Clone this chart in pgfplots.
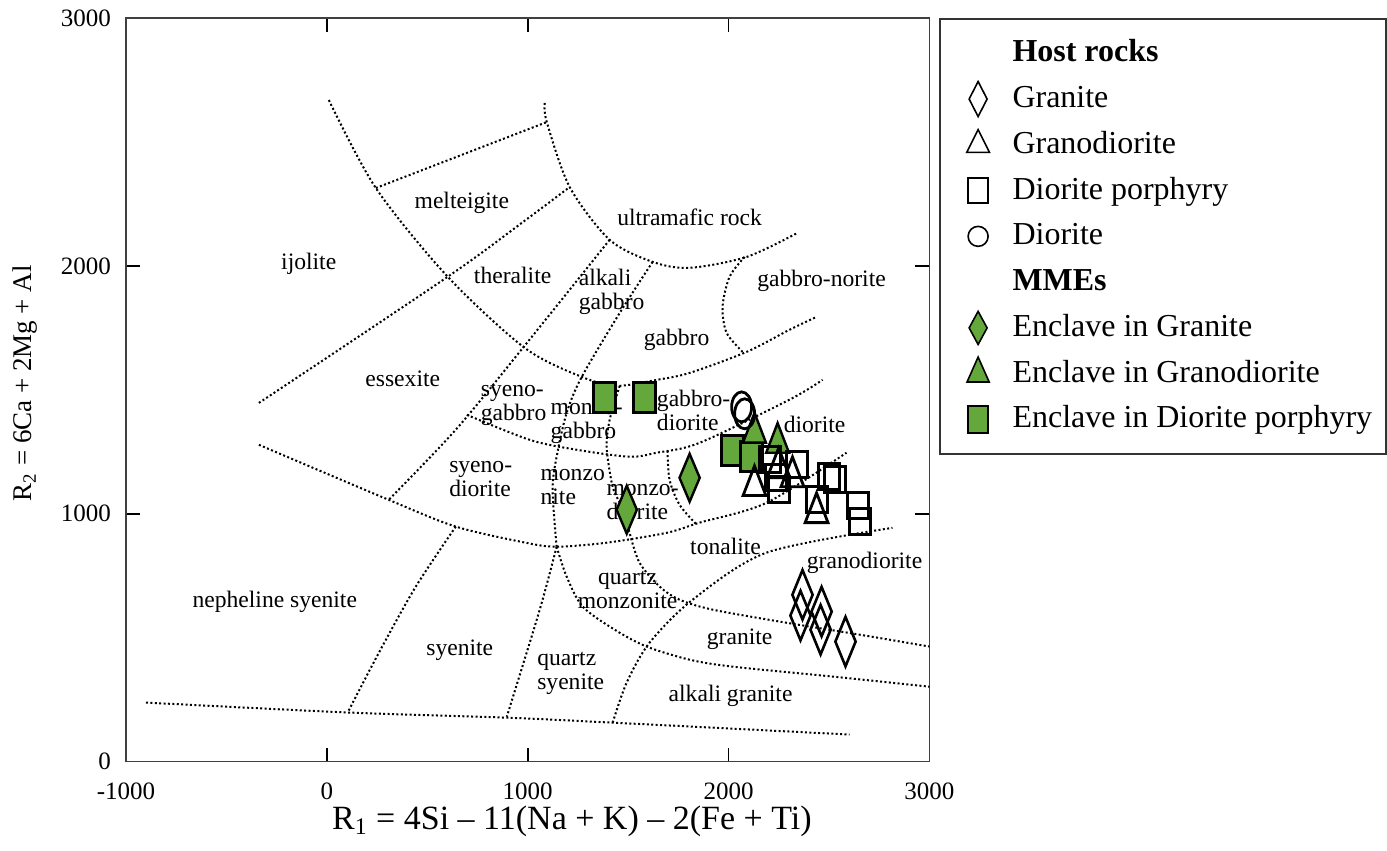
\documentclass[border=0pt]{standalone}
\usepackage{pgfplots}
\pgfplotsset{compat=1.18}
\usepackage{fontspec}
\setmainfont{Liberation Serif}
\definecolor{mmegreen}{RGB}{100,168,60}
\pgfplotsset{
  bnd/.style={forget plot, black, line width=1pt, dash pattern=on 1pt off 1.2pt, mark=none, smooth},
}
\tikzset{lbl/.style={font=\fontsize{11.8}{12}\selectfont, inner sep=0pt}}
\begin{document}
\begin{tikzpicture}
\path (-63pt,-44.5pt) rectangle (630.5pt,381pt);
\begin{axis}[
  at={(0,0)}, anchor=south west,
  scale only axis, width=402pt, height=372pt,
  xmin=-1000, xmax=3000, ymin=0, ymax=3000,
  xtick={-1000,0,1000,2000,3000},
  xticklabels={-1000,0,1000,2000,3000},
  ytick={0,1000,2000,3000},
  yticklabels={0,1000,2000,3000},
  tick align=inside,
  major tick length=7pt,
  axis line style={line width=0.8pt, black!75},
  tick style={line width=0.8pt, black},
  ticklabel style={font=\fontsize{12.5}{15}\selectfont},
  xticklabel style={yshift=-7pt},
  yticklabel style={xshift=-4pt},
  xlabel={R\textsubscript{1} = 4Si – 11(Na + K) – 2(Fe + Ti)},
  ylabel={R\textsubscript{2} = 6Ca + 2Mg + Al},
  xlabel style={font=\fontsize{17}{20}\selectfont, at={(axis description cs:0.555,-0.0806)}, anchor=center},
  ylabel style={font=\fontsize{13.5}{16}\selectfont, at={(axis description cs:-0.1256,0.509)}, anchor=center},
  legend style={at={(1.0124,1)}, anchor=north west, draw=black!80, line width=0.8pt,
    font=\fontsize{16}{19}\selectfont, inner xsep=7pt, inner ysep=8pt,
    row sep=4.4pt, column sep=11.5pt,
    nodes={inner sep=0pt, text height=13.5pt, text depth=5pt}},
  legend cell align=left,
  legend image code/.code={\draw[mark repeat=2, mark phase=2, #1] plot coordinates {(0cm,0cm) (0.42cm,0cm) (0.6cm,0cm)};},
]
% ---- field boundaries
\addplot[bnd] coordinates {(10,2669) (244,2314) (602,1956) (985,1669) (1269,1552) (1443,1516) (1642,1540) (1806,1568) (2090,1653) (2303,1742) (2438,1794)};
\addplot[bnd] coordinates {(1085,2657) (1095,2580) (1209,2318) (1408,2105) (1622,2016) (1806,1992) (2090,2036) (2343,2133)};
\addplot[bnd] coordinates {(244,2314) (1095,2580)};
\addplot[bnd] coordinates {(-338,1447) (602,1956) (990,2185) (1209,2318)};
\addplot[bnd] coordinates {(1408,2105) (980,1673) (642,1339) (308,1056)};
\addplot[bnd] coordinates {(697,1399) (1010,1298) (1244,1258) (1507,1230) (1642,1246) (1856,1286) (2303,1460) (2468,1540)};
\addplot[bnd] coordinates {(-338,1278) (308,1056) (642,948) (990,883) (1144,867) (1393,883) (1692,923) (1856,964) (2189,1044) (2587,1246)};
\addplot[bnd] coordinates {(1622,2016) (1458,1810) (1269,1552) (1194,1407) (1144,1230) (1124,1097) (1144,867)};
\addplot[bnd] coordinates {(1144,867) (1060,613) (896,181)};
\addplot[bnd] coordinates {(1458,1516) (1408,1379) (1393,1270) (1418,1125) (1443,1068) (1483,1008) (1507,923) (1557,802) (1657,706) (1756,653) (1920,613) (2289,560) (2652,512) (3000,464)};
\addplot[bnd] coordinates {(1696,1254) (1706,1137) (1756,1036) (1841,956)};
\addplot[bnd] coordinates {(1423,157) (1493,319) (1607,480) (1821,653) (2189,843) (2816,943)};
\addplot[bnd] coordinates {(1144,867) (1194,746) (1274,625) (1433,532) (1592,464) (1806,411) (2020,383) (2517,343) (3000,302)};
\addplot[bnd] coordinates {(-900,238) (104,198) (900,177) (1423,157) (2602,109)};
\addplot[bnd] coordinates {(642,948) (443,706) (259,439) (104,198)};
\addplot[bnd] coordinates {(2080,2036) (2005,1956) (1970,1835) (1990,1730) (2070,1653)};
% ---- MMEs: enclave in diorite porphyry (under the names)
\addplot[forget plot, only marks, mark=square*, mark size=5.5pt, mark options={yscale=1.36, fill=mmegreen, draw=black, line width=1.4pt}]
  coordinates {(1383,1468) (1582,1468) (2020,1254) (2114,1230)};
% ---- field names
\node[lbl] at (axis cs:672,2254) {melteigite};
\node[lbl] at (axis cs:-90,2008) {ijolite};
\node[lbl] at (axis cs:1806,2197) {ultramafic rock};
\node[lbl] at (axis cs:925,1960) {theralite};
\node[lbl, align=left] at (axis cs:1418,1895) {alkali\\gabbro};
\node[lbl] at (axis cs:2463,1939) {gabbro-norite};
\node[lbl] at (axis cs:1741,1702) {gabbro};
\node[lbl] at (axis cs:378,1544) {essexite};
\node[lbl, align=left] at (axis cs:930,1435) {syeno-\\gabbro};
\node[lbl, align=left] at (axis cs:1294,1363) {monzo-\\gabbro};
\node[lbl, align=left] at (axis cs:1826,1415) {gabbro-\\diorite};
\node[lbl] at (axis cs:2428,1359) {diorite};
\node[lbl, align=left] at (axis cs:766,1141) {syeno-\\diorite};
\node[lbl, align=left] at (axis cs:1224,1109) {monzo\\nite};
\node[lbl, align=left] at (axis cs:1572,1048) {monzo-\\diorite};
\node[lbl] at (axis cs:1985,867) {tonalite};
\node[lbl] at (axis cs:2677,802) {granodiorite};
\node[lbl, align=center] at (axis cs:1497,693) {quartz\\monzonite};
\node[lbl] at (axis cs:2055,492) {granite};
\node[lbl, align=left] at (axis cs:1214,355) {quartz\\syenite};
\node[lbl] at (axis cs:2010,266) {alkali granite};
\node[lbl] at (axis cs:-259,645) {nepheline syenite};
\node[lbl] at (axis cs:662,448) {syenite};
% ---- MMEs
\addplot[forget plot, only marks, mark=triangle*, mark size=6.6pt, mark options={yscale=1.5, fill=mmegreen, draw=black, line width=1.2pt}]
  coordinates {(2129,1327) (2244,1286)};
\addplot[forget plot, only marks, mark=diamond*, mark size=7.5pt, mark options={xscale=0.9, yscale=1.6, fill=mmegreen, draw=black, line width=1.2pt}]
  coordinates {(1806,1145) (1493,1016)};
% ---- host rocks
\addplot[forget plot, only marks, mark=diamond, mark size=7.5pt, mark options={xscale=0.9, yscale=1.65, draw=black, line width=1.3pt}]
  coordinates {(2368,673) (2358,589) (2463,605) (2458,532) (2582,484)};
\addplot[forget plot, only marks, mark=triangle, mark size=6.6pt, mark options={yscale=1.5, draw=black, line width=1.4pt}]
  coordinates {(2129,1113) (2249,1185) (2318,1149) (2438,1004)};
\addplot[forget plot, only marks, mark=square, mark size=5.25pt, mark options={yscale=1.24, draw=black, line width=1.5pt}]
  coordinates {(2204,1218) (2343,1197) (2249,1097) (2502,1149) (2532,1137) (2438,1056) (2642,1032) (2652,968) (2234,1145)};
\addplot[forget plot, only marks, mark=o, mark size=5pt, mark options={yscale=1.5, draw=black, line width=1.4pt}]
  coordinates {(2065,1431) (2080,1403)};
% ---- legend
\addlegendimage{empty legend}
\addlegendentry{\textbf{Host rocks}}
\addlegendimage{only marks, mark=diamond, mark size=6pt, mark options={yscale=1.46, draw=black, line width=0.8pt}}
\addlegendentry{Granite}
\addlegendimage{only marks, mark=triangle, mark size=6.6pt, mark options={yscale=1.15, draw=black, line width=0.8pt}}
\addlegendentry{Granodiorite}
\addlegendimage{only marks, mark=square, mark size=5pt, mark options={yscale=1.25, draw=black, line width=0.8pt}}
\addlegendentry{Diorite porphyry}
\addlegendimage{only marks, mark=o, mark size=5pt, mark options={draw=black, line width=0.8pt}}
\addlegendentry{Diorite}
\addlegendimage{empty legend}
\addlegendentry{\textbf{MMEs}}
\addlegendimage{only marks, mark=diamond*, mark size=6pt, mark options={yscale=1.38, fill=mmegreen, draw=black, line width=0.8pt}}
\addlegendentry{Enclave in Granite}
\addlegendimage{only marks, mark=triangle*, mark size=6.4pt, mark options={yscale=1.3, fill=mmegreen, draw=black, line width=0.8pt}}
\addlegendentry{Enclave in Granodiorite}
\addlegendimage{only marks, mark=square*, mark size=5pt, mark options={yscale=1.35, fill=mmegreen, draw=black, line width=0.8pt}}
\addlegendentry{Enclave in Diorite porphyry}
\end{axis}
\end{tikzpicture}
\end{document}
